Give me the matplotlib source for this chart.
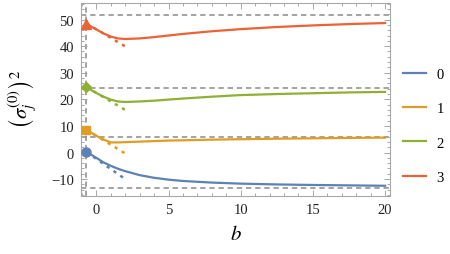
import numpy as np
import matplotlib as mpl
import matplotlib.pyplot as plt
from matplotlib.ticker import MultipleLocator

plt.switch_backend("Agg")

mpl.rcParams["font.family"] = ["Liberation Serif", "DejaVu Serif"]
mpl.rcParams["mathtext.fontset"] = "stix"

# data
b = [-0.68, -0.3, 0, 0.5, 1, 1.5, 2, 3, 4, 5, 6, 8, 10, 12.5, 15, 17.5, 20]
sigma0 = [0.2, -1.0, -2.0, -3.7, -5.0, -6.1, -7.0, -8.5, -9.5, -10.2, -10.7,
          -11.3, -11.7, -12.0, -12.2, -12.35, -12.5]
sigma1 = [8.5, 7.3, 6.3, 4.9, 3.8, 3.8, 3.9, 4.1, 4.3, 4.5, 4.6, 4.85, 5.0,
          5.2, 5.35, 5.5, 5.6]
sigma2 = [24.6, 23.3, 22.4, 21.0, 19.9, 19.2, 19.0, 19.2, 19.5, 19.9, 20.3,
          21.0, 21.6, 22.0, 22.3, 22.6, 22.8]
sigma3 = [48.5, 47.2, 46.3, 44.8, 43.6, 42.9, 42.7, 42.9, 43.4, 44.0, 44.6,
          45.6, 46.4, 47.2, 47.8, 48.3, 48.7]
series = [sigma0, sigma1, sigma2, sigma3]
labels = ["0", "1", "2", "3"]
asymptotes = [-13.5, 5.8, 24.2, 51.8]
slopes = [-3.8, -3.3, -3.2, -3.2]
b_start = -0.68
b_tangent_end = 2.05

colors = ["#5e81b5", "#e19c24", "#8fb032", "#eb6235"]
markers = ["o", "s", "D", "^"]
msizes = [6.5, 6.0, 5.5, 7.5]

fig = plt.figure(figsize=(4.5, 2.55), dpi=100)
ax = fig.add_axes([0.18, 0.229, 0.687, 0.755])

gray = "#8a8a8a"
for a in asymptotes:
    ax.axhline(a, color=gray, lw=1.1, ls=(0, (3.5, 2.5)), zorder=1)
ax.axvline(b_start, color=gray, lw=1.1, ls=(0, (3.5, 2.5)), zorder=1)

for vals, lab, c, m, ms, k in zip(series, labels, colors, markers, msizes, slopes):
    tb = np.array([b_start, b_tangent_end])
    ax.plot(tb, vals[0] + k * (tb - b_start), color=c, lw=1.8,
            ls=(0, (1.3, 2.0)), zorder=2)
    ax.plot(b, vals, color=c, lw=1.6, label=lab, zorder=3)
    ax.plot(b[0], vals[0], marker=m, color=c, ms=ms, zorder=4)

ax.set_xlim(-1.06, 20.35)
ax.set_ylim(-16.2, 56.2)
ax.xaxis.set_major_locator(MultipleLocator(5))
ax.xaxis.set_minor_locator(MultipleLocator(1))
ax.yaxis.set_major_locator(MultipleLocator(10))
ax.yaxis.set_minor_locator(MultipleLocator(2))

frame = "#a8a8a8"
for s in ax.spines.values():
    s.set_color(frame)
    s.set_linewidth(0.8)
ax.tick_params(which="both", direction="in", top=True, right=True,
               color=frame, labelcolor="#222222", labelsize=10.5, width=0.7)
ax.tick_params(which="major", length=4, pad=5)
ax.tick_params(which="minor", length=2)

ax.set_xlabel("$b$", fontsize=15, labelpad=7)
fig.text(0.05, 0.61, r"$\left(\sigma_j^{(0)}\right)^2$", rotation=90,
         fontsize=15, ha="center", va="center")

fig.legend(loc="center left", bbox_to_anchor=(0.895, 0.503), frameon=False,
           fontsize=10.5, handlelength=1.6, handletextpad=0.7,
           labelspacing=1.45, borderpad=0, borderaxespad=0)

fig.savefig("out.png", dpi=100)
